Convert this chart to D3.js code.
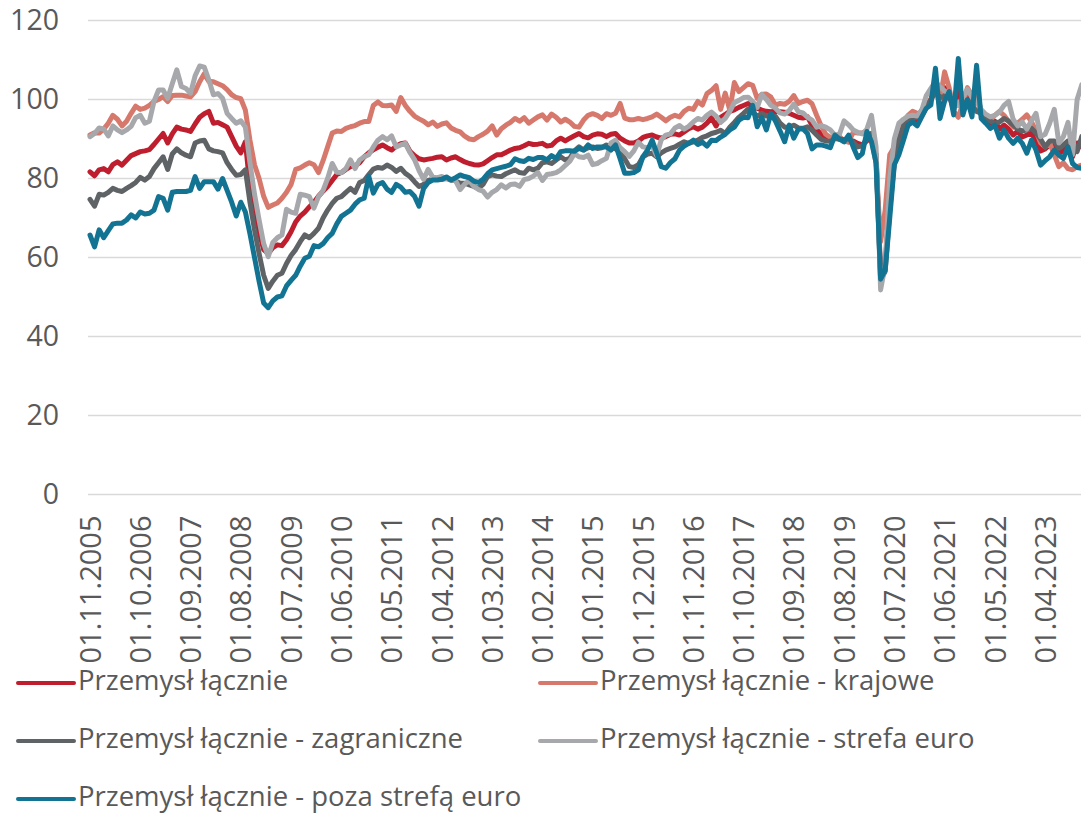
<!DOCTYPE html>
<html>
<head>
<meta charset="utf-8">
<script src="https://cdn.jsdelivr.net/npm/d3@7"></script>
<style>
  body { margin: 0; background: #fff; }
  svg { display: block; font-family: "Open Sans", sans-serif; }
</style>
</head>
<body>
<svg width="1081" height="815"></svg>
<script>
// monthly, from 01.11.2005
const START_YEAR = 2005, START_MONTH = 11;

const tickLabels = [
  '01.11.2005', '01.10.2006', '01.09.2007', '01.08.2008', '01.07.2009',
  '01.06.2010', '01.05.2011', '01.04.2012', '01.03.2013', '01.02.2014',
  '01.01.2015', '01.12.2015', '01.11.2016', '01.10.2017', '01.09.2018',
  '01.08.2019', '01.07.2020', '01.06.2021', '01.05.2022', '01.04.2023'
];

const yTicks = [0, 20, 40, 60, 80, 100, 120];

const laczne = [
  81.7, 80.7, 82.2, 82.5, 81.7, 83.5, 84.2, 83.4, 84.6, 85.8, 86.3,
  86.8, 87, 87.3, 88.6, 90, 91.4, 89, 91.3, 93, 92.5, 92.3,
  91.9, 93.8, 95.5, 96.4, 97, 94, 94.2, 93.6, 93, 90.6, 88.2,
  86.5, 89.3, 78, 72, 66.5, 62, 61, 62.5, 63.2, 63, 64.5,
  66.5, 69, 70.5, 71.5, 72.8, 74, 75.5, 76.8, 78, 79.5, 81,
  81.5, 82.3, 83, 83.2, 84, 85.5, 86.5, 87.3, 87.9, 88.5, 87.8,
  87.2, 88.2, 88.8, 89, 86.9, 85.8, 85, 84.7, 84.9, 85.1, 85.4,
  85.5, 84.7, 85.2, 85.5, 84.8, 84.2, 83.8, 83.5, 83.4, 83.7, 84.5,
  85.3, 86, 86, 86.6, 87.2, 87.6, 87.8, 88.3, 88.9, 88.6, 88.7,
  88.9, 88.2, 88.4, 89.5, 90.2, 89.5, 90.2, 90.8, 91.4, 90.6, 90.3,
  91, 91.3, 91.2, 90.6, 91.2, 91.4, 90.2, 89.5, 89, 89, 89.5,
  90.4, 90.8, 91, 90.5, 90.2, 90.6, 91.2, 91.3, 91, 91.8, 92.6,
  93.1, 92.5, 93, 94, 95.4, 93.3, 95.5, 96.2, 97, 97.4, 98,
  98.5, 99, 98.2, 97.8, 97.3, 97, 96.9, 97, 96.9, 96.8, 96.5,
  96, 95.5, 95.3, 95.6, 93.5, 92.3, 91.3, 90.2, 90.3, 90.2, 90,
  89.6, 89.3, 89.5, 88.9, 88.5, 89.5, 90.5, 86, 56, 58, 75,
  84, 87, 91.5, 93.5, 94.5, 94, 96, 98, 100, 104, 98,
  103, 101, 97.5, 104, 97, 101, 97, 103, 96.5, 95, 94,
  94.5, 92.5, 93.5, 92.5, 91, 92, 90.5, 91, 91.5, 89.5, 87,
  87.5, 88.5, 88, 86.5, 87, 88.5, 85.5, 89, 88
];

const krajowe = [
  91, 91.6, 91.5, 92.5, 94, 96, 95, 93.3, 94.5, 96.5, 98.3,
  97.5, 97.8, 98.5, 99.5, 100, 100.7, 99.5, 101, 101.1, 101.1, 100.9,
  100.7, 102, 104.5, 106.5, 104.6, 104.5, 104, 103.5, 102.5, 101.2, 100.5,
  100.2, 97.3, 89.7, 83.5, 80, 75.5, 72.7, 73.3, 73.8, 75, 76.5,
  78.5, 82.3, 82.7, 83.4, 84, 83.5, 81.5, 84.5, 88, 91.5, 92,
  91.9, 92.7, 93.1, 93.4, 94, 94.4, 94.4, 98.5, 99.4, 98.5, 98.4,
  98.6, 97, 100.5, 98.5, 97, 95.8, 95.1, 94.5, 93.6, 94.3, 93.2,
  93.8, 94.1, 92.8, 92.2, 91.8, 90.7, 90, 89.8, 90.6, 91.2, 92,
  93.3, 91, 92.6, 93.5, 94.2, 95.2, 94.5, 95.4, 94, 94.8, 95.6,
  96.1, 94.8, 96.3, 95.5, 94.3, 95, 94.3, 93.2, 93, 94.8, 96,
  96.4, 96, 95.2, 96.4, 96, 96.5, 99, 95.3, 94.9, 94.9, 95.2,
  94.9, 95.2, 95.6, 96.3, 95.5, 94.6, 95.5, 96, 95.6, 97, 97.8,
  97.5, 99.5, 98.6, 101.5, 102.3, 103.5, 97.5, 101.6, 97.3, 104.3, 102,
  103, 104, 103.6, 100.3, 101.3, 101.4, 100.6, 98.6, 99, 98.8, 99.5,
  101, 99, 99.5, 99.8, 98.9, 96, 93.3, 91.2, 90.4, 90.4, 90.6,
  89.5, 89.2, 91.7, 91.5, 91.6, 91.9, 89.9, 84, 64, 72, 86,
  88, 90, 94, 96, 97, 96.5, 96, 98, 100, 102, 100,
  107, 103, 97, 95.5, 99, 103, 101, 101, 96, 95, 94.8,
  96, 97, 96, 94.5, 93, 94, 95, 96.1, 94.4, 92, 89,
  88, 89, 86, 83, 84, 82.5, 82.2, 83, 83.4
];

const zagraniczne = [
  74.7, 73, 76, 75.8, 76.5, 77.5, 77, 76.7, 77.5, 78.2, 79,
  80.3, 79.6, 80.5, 82.5, 84, 85.5, 82.3, 86.2, 87.5, 86.5, 85.9,
  85.5, 89, 89.5, 89.7, 87.5, 87, 86.8, 86.5, 84, 82.3, 80.8,
  81, 82.2, 74, 67, 61, 55.5, 52.2, 54, 55.5, 56, 58.5,
  60.5, 62, 64, 65.7, 65, 66.1, 67.4, 70, 72, 73.7, 75,
  75.4, 76.5, 77.5, 76.5, 79, 79.5, 81, 82.4, 82.8, 82.6, 83.4,
  82.8, 81.8, 82.6, 81.3, 80.5, 79.2, 78, 78.5, 79.5, 79.8, 80,
  79.8, 80, 79.6, 79.4, 78.8, 78.8, 78.4, 78, 77.5, 78.5, 80.5,
  80.9, 80.6, 80.5, 81.2, 81.7, 82.2, 81.5, 81.3, 82.6, 82.2, 82.6,
  84, 84.2, 83.8, 84.7, 85.5, 84.7, 85.1, 87, 88, 87.2, 87.8,
  88, 87.6, 87.8, 88.5, 88, 87.5, 86.8, 85, 83, 82.8, 83.5,
  85.5, 86.2, 86.4, 85.5, 86.5, 87.2, 87.6, 88, 88.7, 89.3, 88.9,
  89.3, 89.7, 90.4, 90.8, 91.4, 91.7, 92.2, 91.4, 93, 94.2, 95.5,
  96.5, 97.6, 96.8, 95.8, 96.5, 95.8, 96, 95.7, 94, 93, 93,
  93.5, 92.8, 92.7, 93.1, 92.2, 91, 89.9, 89.5, 89.4, 90.1, 90,
  89.8, 90.1, 89.2, 88, 88.3, 90, 91.4, 86, 54.3, 56.5, 72,
  84, 90, 93.3, 94.5, 95.2, 95.5, 97.3, 98.5, 100, 101.8, 100.5,
  100.8, 100.5, 99.5, 98.6, 99.5, 99.9, 98.5, 97, 96.5, 95, 94.5,
  94, 94.3, 95.2, 94.5, 93.5, 92.5, 92, 92.3, 92.7, 91.5, 90,
  88, 89.5, 89.5, 87.6, 88.5, 89.5, 89.7, 86.8, 90.6
];

const strefaEuro = [
  90.6, 91.4, 92.8, 92.5, 90.8, 93.3, 92.3, 91.6, 92.3, 93.2, 95.4,
  96, 94, 94.5, 99.5, 102.4, 102.4, 100.3, 104, 107.5, 103.3, 102.8,
  101.6, 106, 108.5, 108.2, 105, 101.2, 101.5, 100.3, 96.5, 95.2, 94,
  94.6, 93, 84, 76, 69.5, 63.5, 60.2, 63.8, 65, 65.7, 72.2,
  71.5, 71.2, 76, 75.8, 75.4, 72.5, 75.4, 77, 80, 83.8, 81.6,
  81.5, 82.5, 84.7, 82.5, 84.7, 85.5, 86, 88, 89.7, 90.6, 89.8,
  90.8, 88, 88.5, 88.9, 86.6, 84.8, 82, 79.8, 82.3, 80.3, 80.2,
  80.5, 80, 79.8, 79.4, 77.2, 78.6, 79.5, 78, 77.2, 76.8, 75.3,
  76.5, 77.2, 78.4, 77.6, 78.5, 78.6, 78, 79.7, 80, 80.6, 81.5,
  79.5, 81, 81.2, 81.5, 82.2, 83.3, 84.4, 86.3, 85.5, 85.3, 85.9,
  83.5, 83.8, 84.5, 85.1, 89, 89.7, 87.8, 86.8, 85.6, 87, 89.2,
  88, 87.8, 88.3, 85.8, 89.8, 91, 91.3, 92.8, 93.4, 92.5, 93.2,
  94.3, 95.2, 94.8, 96, 96.8, 95.8, 94.2, 95.2, 97, 99.2, 99.8,
  100.5, 100.6, 99.5, 98, 101.3, 100, 98.5, 97.8, 96.6, 96.3, 97.2,
  98.8, 96.9, 96.6, 95.5, 94.8, 93, 93.4, 93, 92.3, 91, 91.2,
  94.6, 93.6, 92.3, 91.7, 91.3, 92.5, 96, 88, 51.8, 58, 80,
  90, 94, 95, 95.8, 96, 95.8, 97.3, 101, 102.8, 104.5, 103.2,
  102.2, 101.5, 100.3, 98.5, 100.5, 102.6, 100.5, 99.6, 97.5, 96.3, 95.6,
  96, 96.8, 98.5, 99.5, 95, 93.3, 94.3, 92.5, 94.6, 96.5, 90.6,
  91.2, 94, 97.5, 89, 90.6, 94.2, 86, 100, 103.7
];

const pozaStrefa = [
  65.7, 62.7, 67, 65, 66.8, 68.5, 68.7, 68.7, 69.5, 70.8, 70,
  71.5, 71, 71.2, 72, 75.4, 75, 72, 76.5, 76.7, 76.7, 76.7,
  77, 80.5, 77.5, 79.2, 79.2, 79.2, 77.3, 80, 77, 74, 70.5,
  74, 71.5, 66, 60, 54, 48.5, 47.3, 49, 50, 50.3, 52.8,
  54.2, 55.5, 57.8, 59.8, 60.3, 63, 62.7, 63.5, 65, 66.1, 68.5,
  70.4, 71.2, 72, 73.5, 74.6, 75, 80.5, 76.3, 78.5, 79, 77.3,
  76.5, 78.5, 77.8, 76.5, 76.7, 75.5, 73, 77.5, 79, 79.6, 79.6,
  79.8, 80.4, 79.6, 80.2, 80.9, 80.5, 80.2, 79.3, 79, 79.8, 81.2,
  82.2, 82.5, 82.8, 83.1, 83.5, 85, 84.5, 84.3, 85.1, 84.8, 85.3,
  85.3, 84.7, 85.8, 85.1, 86.8, 87, 87, 86.9, 87.6, 87.2, 88.5,
  87.6, 88, 88, 88, 87.2, 88.5, 85, 81.3, 81.3, 81.5, 82.2,
  85.5, 87.2, 89.7, 86.5, 83, 82.6, 84, 85, 87.2, 88.2, 88.9,
  89.7, 88.6, 89.2, 88.2, 89.7, 89.6, 90.5, 91.2, 92.3, 93, 94.8,
  95.5, 95.4, 98.5, 93.1, 95.5, 92.3, 96.5, 94.5, 92, 89.3, 93.5,
  90.2, 92.5, 92.6, 91.4, 87.5, 88.5, 88.5, 88.2, 87.8, 91, 90,
  89.3, 91, 88, 85.3, 86.3, 91.9, 89.3, 84, 54.5, 56.8, 70,
  83.5, 86, 89.7, 93.5, 94.3, 93.3, 95.6, 97.8, 98.6, 107.9, 95.2,
  99.5, 102, 96.1, 110.4, 96.1, 99.9, 95.6, 108.7, 95.2, 94, 92.7,
  93.5, 90.2, 92.3, 90.2, 88.9, 90.2, 88.9, 86.4, 89.7, 87.2, 83.4,
  84.5, 85.5, 87.2, 85.9, 85.1, 88, 83.8, 82.8, 82.6
];

const seriesNames = [
  'Przemysł łącznie',
  'Przemysł łącznie - krajowe',
  'Przemysł łącznie - zagraniczne',
  'Przemysł łącznie - strefa euro',
  'Przemysł łącznie - poza strefą euro'
];
const seriesValues = [laczne, krajowe, zagraniczne, strefaEuro, pozaStrefa];
const colors = ['#be1e2d', '#d6796c', '#5f6366', '#a6a8ab', '#127492'];

// category labels dd.mm.yyyy
const months = laczne.map((_, i) => {
  const m = (START_MONTH - 1 + i) % 12 + 1;
  const y = START_YEAR + Math.floor((START_MONTH - 1 + i) / 12);
  return '01.' + String(m).padStart(2, '0') + '.' + y;
});

const svg = d3.select('svg');
const textColor = '#595959';

const x = d3.scalePoint()
  .domain(months)
  .range([90, 90 + 4.57 * (months.length - 1)]);
const y = d3.scaleLinear().domain([0, 120]).range([494.5, 20.5]);

// gridlines
svg.append('g')
  .selectAll('line')
  .data(yTicks)
  .enter()
  .append('line')
  .attr('x1', 88)
  .attr('x2', 1081)
  .attr('y1', (d) => y(d))
  .attr('y2', (d) => y(d))
  .attr('stroke', '#d9d9d9')
  .attr('stroke-width', 1.5);

// y axis
const yAxis = svg.append('g')
  .attr('transform', 'translate(59,0)')
  .call(d3.axisLeft(y).tickValues(yTicks).tickSize(0).tickPadding(0));
yAxis.select('.domain').remove();
yAxis.selectAll('text')
  .attr('fill', textColor)
  .style('font-family', '"Open Sans", sans-serif')
  .style('font-size', '28.5px');

// x axis, rotated labels
const xAxis = svg.append('g')
  .attr('transform', 'translate(0,' + y(0) + ')')
  .call(d3.axisBottom(x).tickValues(tickLabels).tickSize(0));
xAxis.select('.domain').remove();
xAxis.selectAll('text')
  .attr('fill', textColor)
  .style('font-family', '"Open Sans", sans-serif')
  .style('font-size', '29px')
  .attr('text-anchor', 'end')
  .attr('transform', 'rotate(-90)')
  .attr('x', -21)
  .attr('y', 0)
  .attr('dy', '0.35em');

// lines
const line = d3.line()
  .x((d, i) => x(months[i]))
  .y((d) => y(d));

svg.append('g')
  .selectAll('path')
  .data(seriesValues)
  .enter()
  .append('path')
  .attr('d', (d) => line(d))
  .attr('fill', 'none')
  .attr('stroke', (d, i) => colors[i])
  .attr('stroke-width', 5)
  .attr('stroke-linejoin', 'round')
  .attr('stroke-linecap', 'round');

// legend
const legendPos = [
  [18, 683], [540, 683],
  [18, 741], [540, 741],
  [18, 799]
];
const legend = svg.append('g')
  .selectAll('g')
  .data(seriesNames)
  .enter()
  .append('g')
  .attr('transform', (d, i) => 'translate(' + legendPos[i][0] + ',' + legendPos[i][1] + ')');
legend.append('line')
  .attr('x1', 0).attr('x2', 56)
  .attr('stroke', (d, i) => colors[i])
  .attr('stroke-width', 4)
  .attr('stroke-linecap', 'round');
legend.append('text')
  .attr('x', 60)
  .attr('dy', 7)
  .attr('fill', textColor)
  .style('font-size', '27.5px')
  .text((d) => d);
</script>
</body>
</html>
